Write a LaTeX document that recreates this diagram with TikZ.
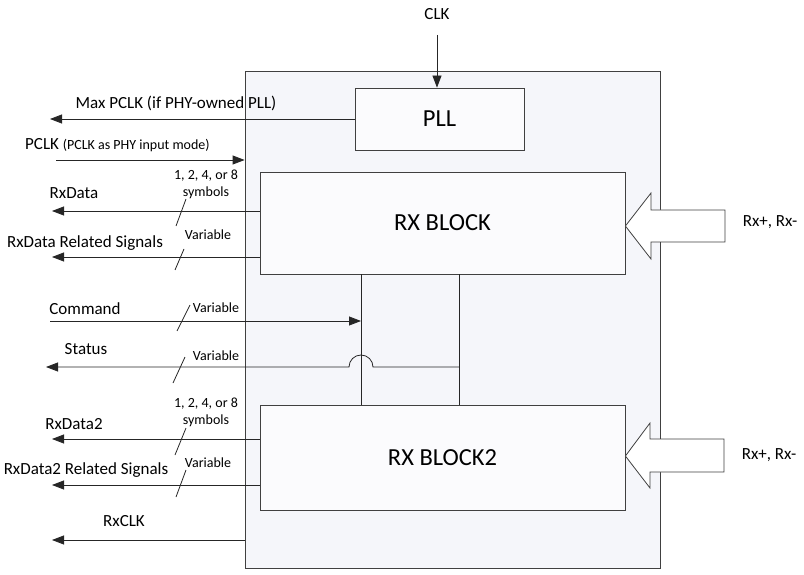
\documentclass[tikz,border=0pt]{standalone}
\usepackage{fontspec}
\setmainfont{Carlito}
\usetikzlibrary{arrows.meta}
\definecolor{boxfill}{HTML}{F5F6FA}
\definecolor{blkfill}{HTML}{FBFBFD}
\tikzset{
  blk/.style={draw=black!75, fill=blkfill, line width=0.8pt, inner sep=0pt},
  sig/.style={draw=black!85, line width=0.8pt},
  tip/.style={-{Triangle[length=12pt,width=9pt]}},
  lbl/.style={font=\fontsize{17}{19}\selectfont, inner sep=0pt},
  note/.style={font=\fontsize{14}{17}\selectfont, inner sep=0pt, align=center},
  big/.style={font=\fontsize{24.5}{28}\selectfont},
}

\begin{document}
\begin{tikzpicture}[x=1pt,y=-1pt]
	\useasboundingbox (0,0) rectangle (804,575);
	% Blocks:
	\node[blk, fill=boxfill, minimum width=415pt, minimum height=497pt](phy) at (452.5,319.5){};
	\node[blk, big, minimum width=169pt, minimum height=62pt](pll) at (439.5,119){PLL};
	\node[blk, big, minimum width=365pt, minimum height=102pt](rx1) at (442.5,223){RX BLOCK};
	\node[blk, big, minimum width=365pt, minimum height=105pt](rx2) at (442.5,457.5){RX BLOCK2};
	% Clocks:
	\coordinate (clk) at (437,35);
	\node[lbl](clkl) at (437,14){CLK};
	\draw[sig, tip] (clk) -- (clk |- pll.north);
	\coordinate (maxpclk) at (50,119);
	\draw[sig, tip] (pll.west) -- (maxpclk);
	\node[lbl](maxpclkl) at (176,103){Max PCLK (if PHY-owned PLL)};
	\coordinate (pclk) at (56,160);
	\draw[sig, tip] (pclk) -- (pclk -| phy.west);
	\node[lbl, anchor=west](pclkl) at (25,145){PCLK \fontsize{14}{15}\selectfont(PCLK as PHY input mode)};
	% RX BLOCK outputs:
	\coordinate (rxd) at (52,211);
	\draw[sig, tip] (rxd -| rx1.west) -- (rxd);
	\draw[sig] (176,226) -- (186,199);
	\node[lbl](rxdl) at (74,193){RxData};
	\node[note](rxdn) at (206,184){1, 2, 4, or 8\\symbols};
	\coordinate (rxs) at (52,257);
	\draw[sig, tip] (rxs -| rx1.west) -- (rxs);
	\draw[sig] (175,270) -- (184,249);
	\node[lbl](rxsl) at (85,243){RxData Related Signals};
	\node[note](rxsn) at (208,235){Variable};
	% Command and status:
	\coordinate (ja) at (361,274);
	\coordinate (jb) at (459,274);
	\draw[sig] (ja) -- (ja |- rx2.north);
	\draw[sig] (jb) -- (jb |- rx2.north);
	\coordinate (cmd) at (50,321);
	\draw[sig, tip] (cmd) -- (cmd -| ja);
	\draw[sig] (177,331) -- (190,305);
	\node[lbl](cmdl) at (85,309){Command};
	\node[note](cmdn) at (216,308){Variable};
	\coordinate (st) at (46,367);
	\draw[sig, tip] (jb |- st) -- (373,367) arc[start angle=0, end angle=180, radius=12pt] -- (st);
	\draw[sig] (173,383) -- (185,357);
	\node[lbl](stl) at (86,349){Status};
	\node[note](stn) at (216,356){Variable};
	% RX BLOCK2 outputs:
	\coordinate (rxd2) at (52,439);
	\draw[sig, tip] (rxd2 -| rx2.west) -- (rxd2);
	\draw[sig] (175,455) -- (186,428);
	\node[lbl](rxd2l) at (74,424){RxData2};
	\node[note](rxd2n) at (206,412){1, 2, 4, or 8\\symbols};
	\coordinate (rxs2) at (52,485);
	\draw[sig, tip] (rxs2 -| rx2.west) -- (rxs2);
	\draw[sig] (176,497) -- (186,470);
	\node[lbl](rxs2l) at (86,470){RxData2 Related Signals};
	\node[note](rxs2n) at (208,463){Variable};
	\coordinate (rxclk) at (52,540);
	\draw[sig, tip] (rxclk -| phy.west) -- (rxclk);
	\node[lbl](rxclkl) at (124,521){RxCLK};
	% Rx+, Rx- inputs:
	\draw[blk, fill=white] (rx1.east |- 0,226) -- (651,193) -- (651,210) -- (725,210) -- (725,242) -- (651,242) -- (651,259) -- cycle;
	\node[lbl](rxin1) at (770,222){Rx+, Rx-};
	\draw[blk, fill=white] (rx2.east |- 0,456) -- (650,423) -- (650,439) -- (724,439) -- (724,472) -- (650,472) -- (650,488) -- cycle;
	\node[lbl](rxin2) at (769,455){Rx+, Rx-};
\end{tikzpicture}
\end{document}
